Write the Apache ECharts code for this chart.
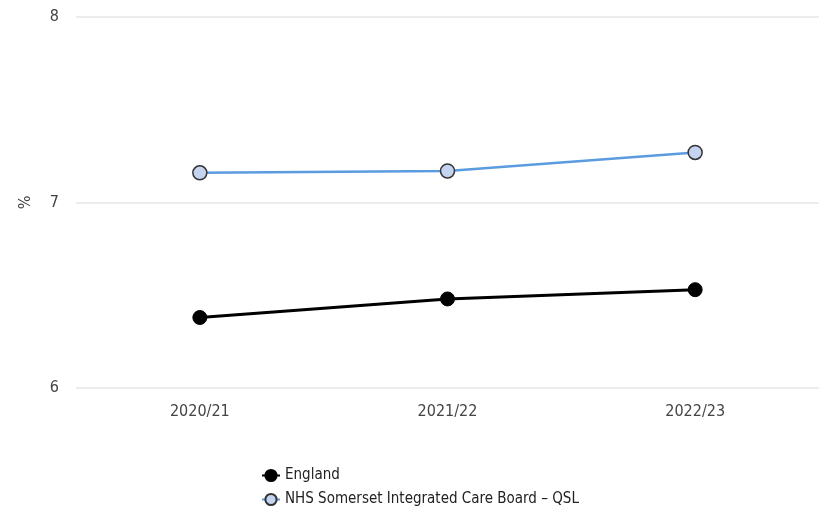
<!DOCTYPE html>
<html><head><meta charset="utf-8">
<script src="https://cdn.jsdelivr.net/npm/echarts@6/dist/echarts.min.js"></script>
<style>html,body{margin:0;padding:0;background:#fff}#c{width:828px;height:515px}</style>
</head><body><div id="c"></div>
<script>
const categories = ['2020/21', '2021/22', '2022/23'];
const englandValues = [6.38, 6.48, 6.53];
const somersetValues = [7.16, 7.17, 7.27];
const yTicks = [6, 7, 8];
const seriesNames = ['England', 'NHS Somerset Integrated Care Board \u2013 QSL'];

const font = '"Liberation Sans Narrow", "DejaVu Sans Condensed", sans-serif';
const chart = echarts.init(document.getElementById('c'));
chart.setOption({
  animation: false,
  grid: { left: 76, right: 9, top: 17, bottom: 127 },
  legend: {
    orient: 'vertical', left: 256, top: 463, itemGap: 9, itemWidth: 18, itemHeight: 14,
    textStyle: { fontFamily: font, fontSize: 15, color: '#222' },
    data: seriesNames
  },
  xAxis: {
    type: 'category', data: categories, boundaryGap: true,
    axisLine: { show: false }, axisTick: { show: false },
    axisLabel: { fontFamily: font, fontSize: 16, color: '#444', margin: 16 }
  },
  yAxis: {
    type: 'value', min: yTicks[0], max: yTicks[yTicks.length - 1], interval: 1,
    name: '%', nameLocation: 'middle', nameGap: 42, nameRotate: 90,
    nameTextStyle: { fontFamily: font, fontSize: 16, color: '#444' },
    axisLabel: { fontFamily: font, fontSize: 16, color: '#444', margin: 17 },
    splitLine: { lineStyle: { color: '#e6e6e6', width: 1.5 } }
  },
  series: [
    {
      name: seriesNames[0], type: 'line', data: englandValues,
      symbol: 'circle', symbolSize: 14,
      lineStyle: { color: '#000', width: 3 },
      itemStyle: { color: '#000', borderColor: '#000', borderWidth: 1 }
    },
    {
      name: seriesNames[1], type: 'line', data: somersetValues,
      symbol: 'circle', symbolSize: 14,
      lineStyle: { color: '#5b9be0', width: 2.5 },
      itemStyle: { color: '#c3d3f0', borderColor: '#333', borderWidth: 1.5 }
    }
  ]
});
</script></body></html>
